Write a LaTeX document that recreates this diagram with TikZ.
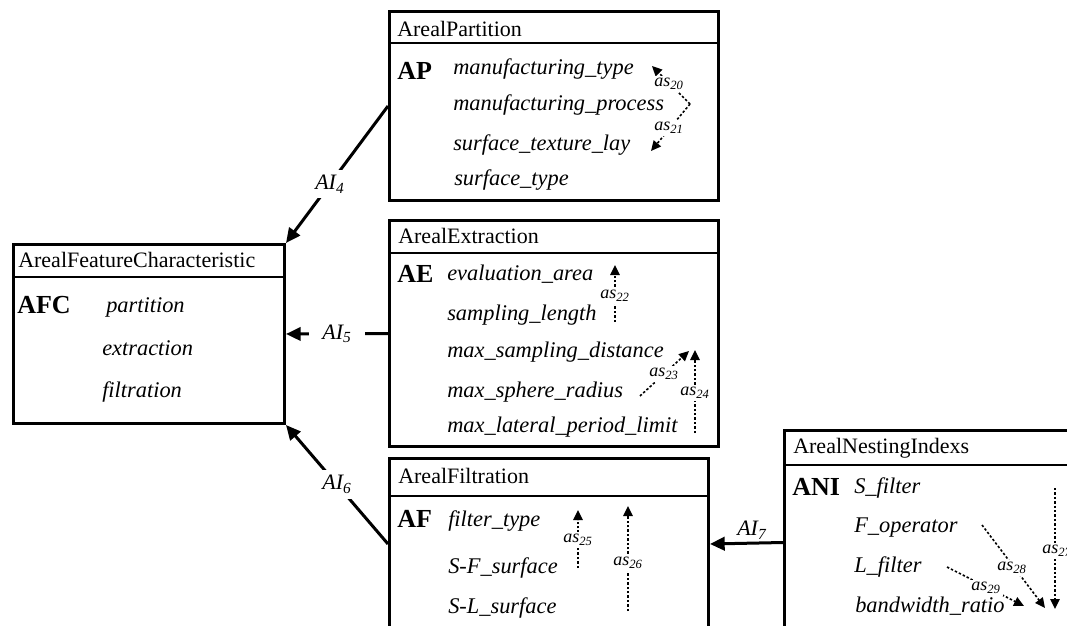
\documentclass[tikz,border=0pt]{standalone}
\usepackage{fontspec}
\setmainfont{Liberation Serif}
\usetikzlibrary{arrows.meta}
\tikzset{
  box/.style={draw, line width=2.25pt, anchor=north west, inner sep=0pt},
  divline/.style={line width=2pt},
  ttl/.style={anchor=base west, inner sep=0pt, font=\fontsize{16.5}{19}\selectfont},
  abbr/.style={anchor=base west, inner sep=0pt, font=\fontsize{19.5}{22}\selectfont\bfseries},
  attr/.style={anchor=base west, inner sep=0pt, font=\fontsize{16.8}{19}\selectfont\itshape},
  conn/.style={line width=2.25pt, -{Triangle[length=11pt,width=10pt]}},
  ailab/.style={fill=white, inner sep=4pt, font=\fontsize{16.5}{19}\selectfont\itshape},
  dotarr/.style={line width=1.2pt, dash pattern=on 1.8pt off 1.5pt, -{Triangle[length=7.5pt,width=7pt]}},
  aslab/.style={fill=white, inner sep=1.5pt, font=\fontsize{13.5}{15}\selectfont\itshape},
}
\begin{document}
\begin{tikzpicture}[x=0.75pt,y=-0.75pt]
\useasboundingbox (0,0) rectangle (1067,625);
\clip (0,0) rectangle (1067,625);

% boxes
\node[box, minimum width=246.75pt, minimum height=141.75pt] (AP) at (388,10) {};
\node[box, minimum width=203.25pt, minimum height=134.25pt] (AFC) at (12,243) {};
\node[box, minimum width=246.75pt, minimum height=169.5pt] (AE) at (388,219) {};
\node[box, minimum width=239.25pt, minimum height=128.25pt] (AF) at (388,457) {};
\node[box, minimum width=230.25pt, minimum height=168pt] (ANI) at (783,429) {};

% title dividers
\draw[divline] (388,43) -- (717,43);
\draw[divline] (12,277) -- (283,277);
\draw[divline] (388,253) -- (717,253);
\draw[divline] (388,496) -- (707,496);
\draw[divline] (783,465) -- (1090,465);

% AP
\node[ttl] (APt) at (397,36) {ArealPartition};
\node[abbr] (APa) at (397,79) {AP};
\node[attr] (ap1) at (453,74) {manufacturing\_type};
\node[attr] (ap2) at (453,110) {manufacturing\_process};
\node[attr] (ap3) at (453,150) {surface\_texture\_lay};
\node[attr] (ap4) at (454,185) {surface\_type};

% AFC
\node[ttl] (AFCt) at (18,267) {ArealFeatureCharacteristic};
\node[abbr] (AFCa) at (17,313) {AFC};
\node[attr] (afc1) at (106,312) {partition};
\node[attr] (afc2) at (102,355) {extraction};
\node[attr] (afc3) at (102,397) {filtration};

% AE
\node[ttl] (AEt) at (398,243) {ArealExtraction};
\node[abbr] (AEa) at (397,282) {AE};
\node[attr] (ae1) at (447,280) {evaluation\_area};
\node[attr] (ae2) at (447,320) {sampling\_length};
\node[attr] (ae3) at (447,357) {max\_sampling\_distance};
\node[attr] (ae4) at (447,397) {max\_sphere\_radius};
\node[attr] (ae5) at (447,432) {max\_lateral\_period\_limit};

% AF
\node[ttl] (AFt) at (398,483) {ArealFiltration};
\node[abbr] (AFa) at (397,527) {AF};
\node[attr] (af1) at (448,526) {filter\_type};
\node[attr] (af2) at (448,573) {S-F\_surface};
\node[attr] (af3) at (448,613) {S-L\_surface};

% ANI
\node[ttl] (ANIt) at (793,453) {ArealNestingIndexs};
\node[abbr] (ANIa) at (792,495) {ANI};
\node[attr] (ani1) at (854,493) {S\_filter};
\node[attr] (ani2) at (854,532) {F\_operator};
\node[attr] (ani3) at (854,572) {L\_filter};
\node[attr] (ani4) at (855,612) {bandwidth\_ratio};

% connectors
\draw[conn] (AP.west) -- node[ailab, pos=0.57] (ai4) {AI\textsubscript{4}} (AFC.north east);
\draw[conn] (AE.west) -- node[ailab, inner xsep=10pt] (ai5) {AI\textsubscript{5}} (AFC.east);
\draw[conn] (AF.west) -- node[ailab, pos=0.5] (ai6) {AI\textsubscript{6}} (AFC.south east);
\draw[conn] (ANI.west) -- node[font=\fontsize{16.5}{19}\selectfont\itshape, above, inner sep=2pt, xshift=4pt] (ai7) {AI\textsubscript{7}} (AF.east);

% dotted association arrows
\coordinate (c20a) at (690,104);
\coordinate (c20b) at (652,66);
\coordinate (c21b) at (651,151);
\draw[dotarr] (c20a) -- (c20b);
\draw[dotarr] (c20a) -- (c21b);
\node[aslab] (as20) at (669,84) {as\textsubscript{20}};
\node[aslab] (as21) at (669,128) {as\textsubscript{21}};

\coordinate (c22a) at (615,322); \coordinate (c22b) at (615,265);
\draw[dotarr] (c22a) -- (c22b);
\node[aslab] (as22) at (615,296) {as\textsubscript{22}};

\coordinate (c23a) at (640,396); \coordinate (c23b) at (689,351);
\draw[dotarr] (c23a) -- (c23b);
\node[aslab] (as23) at (664,374) {as\textsubscript{23}};

\coordinate (c24a) at (695,433); \coordinate (c24b) at (695,350);
\draw[dotarr] (c24a) -- (c24b);
\node[aslab] (as24) at (695,393) {as\textsubscript{24}};

\coordinate (c25a) at (578,568); \coordinate (c25b) at (578,510);
\draw[dotarr] (c25a) -- (c25b);
\node[aslab] (as25) at (578,540) {as\textsubscript{25}};

\coordinate (c26a) at (628,611); \coordinate (c26b) at (628,506);
\draw[dotarr] (c26a) -- (c26b);
\node[aslab] (as26) at (628,563) {as\textsubscript{26}};

\coordinate (c27a) at (1055,488); \coordinate (c27b) at (1055,609);
\draw[dotarr] (c27a) -- (c27b);
\node[aslab] (as27) at (1057,551) {as\textsubscript{27}};

\coordinate (c28a) at (982,525); \coordinate (c28b) at (1045,608);
\draw[dotarr] (c28a) -- (c28b);
\node[aslab] (as28) at (1012,568) {as\textsubscript{28}};

\coordinate (c29a) at (947,567); \coordinate (c29b) at (1024,606);
\draw[dotarr] (c29a) -- (c29b);
\node[aslab] (as29) at (986,588) {as\textsubscript{29}};
\end{tikzpicture}
\end{document}
